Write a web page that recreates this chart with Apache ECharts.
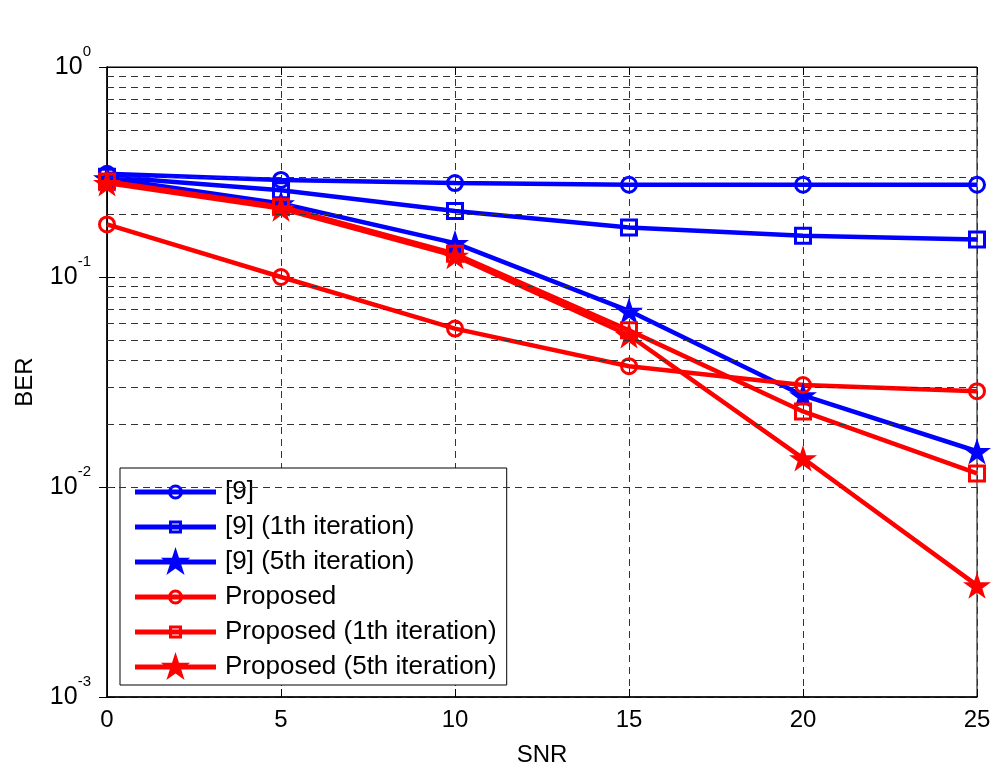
<!DOCTYPE html>
<html>
<head>
<meta charset="utf-8">
<script src="https://cdn.jsdelivr.net/npm/echarts@6/dist/echarts.min.js"></script>
<style>html,body{margin:0;padding:0;background:#fff}#c{width:996px;height:769px}</style>
</head>
<body>
<div id="c"></div>
<script>
const snr = [0, 5, 10, 15, 20, 25];
const ber_ref = [0.31, 0.29, 0.28, 0.275, 0.275, 0.275];
const ber_ref_1 = [0.30, 0.259, 0.206, 0.172, 0.157, 0.151];
const ber_ref_5 = [0.295, 0.224, 0.145, 0.069, 0.0273, 0.0148];
const ber_prop = [0.178, 0.100, 0.0568, 0.0376, 0.0306, 0.0286];
const ber_prop_1 = [0.285, 0.216, 0.129, 0.0557, 0.0229, 0.0116];
const ber_prop_5 = [0.28, 0.212, 0.126, 0.0528, 0.0137, 0.0034];
const seriesNames = ['[9]', '[9] (1th iteration)', '[9] (5th iteration)', 'Proposed', 'Proposed (1th iteration)', 'Proposed (5th iteration)'];
const minorGrid = [0.002,0.003,0.004,0.005,0.006,0.007,0.008,0.009,0.02,0.03,0.04,0.05,0.06,0.07,0.08,0.09,0.2,0.3,0.4,0.5,0.6,0.7,0.8,0.9];

const FONT = 'Liberation Sans, Arial, sans-serif';
const dashStyle = {color: '#333', width: 1, type: [7, 5]};

// star polygon path (centered at cx, cy, outer radius R), clockwise on screen
function starPts(cx, cy, R) {
  const r = R * 0.382, pts = [];
  for (let k = 0; k < 10; k++) {
    const a = (-90 + k * 36) * Math.PI / 180;
    const rr = (k % 2 === 0) ? R : r;
    pts.push((cx + rr * Math.cos(a)).toFixed(2) + ',' + (cy + rr * Math.sin(a)).toFixed(2));
  }
  return 'M' + pts.join(' L') + ' Z';
}
const STAR = 'path://' + starPts(0, 0, 10);

// legend icons: line + marker, in an 81 x 30 box
const W = 81, H = 30, CX = 40.5;
const bbox = 'M0,0 L0,0 Z M81,30 L81,30 Z ';
const strip = 'M0,12.5 L81,12.5 L81,17.5 L0,17.5 Z ';
const ICON_CIRCLE = 'path://' + bbox + strip +
  'M33,15 A7.5,7.5 0 1,1 48,15 A7.5,7.5 0 1,1 33,15 Z ' +
  'M36,15 A4.5,4.5 0 1,0 45,15 A4.5,4.5 0 1,0 36,15 Z';
const ICON_RECT = 'path://' + bbox + strip +
  'M34,8.5 L47,8.5 L47,21.5 L34,21.5 Z ' +
  'M37,11.5 L37,18.5 L44,18.5 L44,11.5 Z';
const ICON_STAR = 'path://' + bbox + strip + starPts(CX, 15.5, 15.5);

function pairs(ys) { return snr.map((x, i) => [x, ys[i]]); }
function mk(name, ys, color, kind) {
  const s = {
    name: name, type: 'line', data: pairs(ys), z: 3,
    lineStyle: {color: color, width: 4.5},
    showSymbol: true, symbolKeepAspect: true
  };
  if (kind === 'circle') {
    s.symbol = 'circle'; s.symbolSize = 15;
    s.itemStyle = {color: 'rgba(255,255,255,0)', borderColor: color, borderWidth: 3};
  } else if (kind === 'rect') {
    s.symbol = 'rect'; s.symbolSize = 15;
    s.itemStyle = {color: 'rgba(255,255,255,0)', borderColor: color, borderWidth: 3};
  } else {
    s.symbol = STAR; s.symbolSize = 28;
    s.itemStyle = {color: color, borderColor: color, borderWidth: 0};
  }
  return s;
}
const legendColors = ['#0000FF', '#0000FF', '#0000FF', '#FF0000', '#FF0000', '#FF0000'];
const legendIcons = [ICON_CIRCLE, ICON_RECT, ICON_STAR, ICON_CIRCLE, ICON_RECT, ICON_STAR];

const chart = echarts.init(document.getElementById('c'));
const option = {
  animation: false,
  backgroundColor: '#fff',
  grid: {left: 107, right: 19, top: 67, bottom: 72, outerBoundsMode: 'none', containLabel: false,
         show: true, borderColor: '#000', borderWidth: 1, backgroundColor: '#fff'},
  xAxis: [{
    type: 'value', min: 0, max: 25, interval: 5,
    name: 'SNR', nameLocation: 'middle', nameGap: 46,
    nameTextStyle: {fontFamily: FONT, fontSize: 24, color: '#000'},
    axisLine: {lineStyle: {color: '#000', width: 1.5}},
    axisTick: {inside: true, length: 8, lineStyle: {color: '#000'}},
    axisLabel: {fontFamily: FONT, fontSize: 24, color: '#000', margin: 11},
    splitLine: {show: true, lineStyle: dashStyle}
  }, {
    type: 'value', min: 0, max: 25, interval: 5, position: 'top',
    axisLine: {show: true, lineStyle: {color: '#000', width: 1}},
    axisTick: {inside: true, length: 8, lineStyle: {color: '#000'}},
    axisLabel: {show: false}, splitLine: {show: false}
  }],
  yAxis: [{
    type: 'log', logBase: 10, min: 0.001, max: 1,
    name: 'BER', nameLocation: 'middle', nameGap: 70,
    nameTextStyle: {fontFamily: FONT, fontSize: 24, color: '#000'},
    axisLine: {show: true, lineStyle: {color: '#000', width: 1.5}},
    axisTick: {inside: true, length: 8, lineStyle: {color: '#000'}},
    axisLabel: {
      margin: 16, fontFamily: FONT, color: '#000',
      formatter: function (v) { return '{b|10}{s|' + Math.round(Math.log10(v)) + '}'; },
      rich: {
        b: {fontFamily: FONT, fontSize: 25, color: '#000', verticalAlign: 'middle', lineHeight: 46},
        s: {fontFamily: FONT, fontSize: 15, color: '#000', verticalAlign: 'top', lineHeight: 12}
      }
    },
    splitLine: {show: true, lineStyle: dashStyle}
  }, {
    type: 'log', logBase: 10, min: 0.001, max: 1, position: 'right',
    axisLine: {show: true, lineStyle: {color: '#000', width: 1}},
    axisTick: {inside: true, length: 8, lineStyle: {color: '#000'}},
    axisLabel: {show: false}, splitLine: {show: false}
  }],
  legend: {
    data: seriesNames.map((n, i) => ({
      name: n, icon: legendIcons[i],
      itemStyle: {color: legendColors[i], borderWidth: 0, opacity: 1}
    })),
    orient: 'vertical', left: 120, top: 468,
    padding: [9, 10, 3, 15],
    backgroundColor: '#fff', borderColor: '#000', borderWidth: 1,
    itemWidth: W, itemHeight: H, itemGap: 5, symbolKeepAspect: false,
    textStyle: {fontFamily: FONT, fontSize: 26, color: '#000', lineHeight: 30, padding: [0, 0, 0, 4]}
  },
  series: [
    {
      name: 'grid', type: 'line', data: [], z: 1, silent: true,
      markLine: {
        silent: true, symbol: 'none', label: {show: false},
        lineStyle: dashStyle, animation: false,
        data: minorGrid.map(v => ({yAxis: v}))
      }
    },
    mk(seriesNames[0], ber_ref, '#0000FF', 'circle'),
    mk(seriesNames[1], ber_ref_1, '#0000FF', 'rect'),
    mk(seriesNames[2], ber_ref_5, '#0000FF', 'star'),
    mk(seriesNames[3], ber_prop, '#FF0000', 'circle'),
    mk(seriesNames[4], ber_prop_1, '#FF0000', 'rect'),
    mk(seriesNames[5], ber_prop_5, '#FF0000', 'star')
  ]
};
chart.setOption(option);
</script>
</body>
</html>
